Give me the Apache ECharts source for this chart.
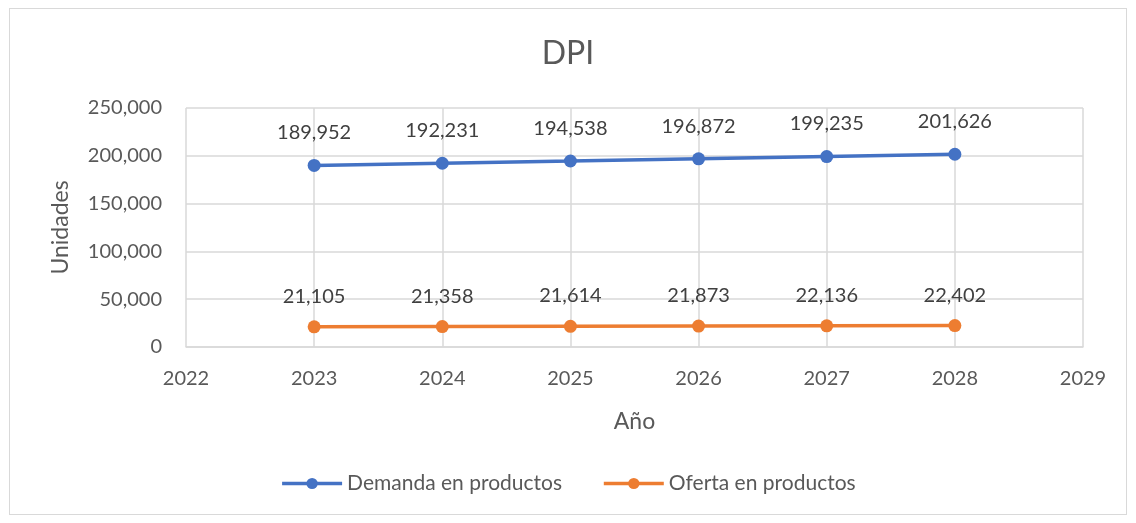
<!DOCTYPE html>
<html>
<head>
<meta charset="utf-8">
<script src="https://cdn.jsdelivr.net/npm/echarts@6/dist/echarts.min.js"></script>
<style>
  html, body { margin: 0; padding: 0; background: #fff; }
  #main { position: absolute; left: 9px; top: 8px; width: 1118px; height: 507px; border: 1px solid #d9d9d9; box-sizing: border-box; }
</style>
</head>
<body>
<div id="main"></div>
<script>
const years = [2023, 2024, 2025, 2026, 2027, 2028];
const demanda = [189952, 192231, 194538, 196872, 199235, 201626];
const oferta = [21105, 21358, 21614, 21873, 22136, 22402];

const font = 'Lato, "Open Sans", sans-serif';
const grey = '#595959';

let myChart = echarts.init(document.getElementById('main'));

const pair = (arr) => years.map((y, i) => [y, arr[i]]);

let option = {
  animation: false,
  textStyle: { fontFamily: font },
  title: {
    text: 'DPI',
    left: 'center',
    top: 24,
    textStyle: { fontSize: 32, fontWeight: 'normal', color: grey, fontFamily: font }
  },
  grid: { left: 176, right: 43, top: 99, bottom: 167 },
  xAxis: {
    type: 'value',
    min: 2022,
    max: 2029,
    interval: 1,
    name: 'Año',
    nameLocation: 'middle',
    nameGap: 63,
    nameTextStyle: { fontSize: 23, color: grey, fontFamily: font },
    axisLine: { show: true, lineStyle: { color: '#d9d9d9', width: 1.5 } },
    axisTick: { show: false },
    axisLabel: { fontSize: 20, color: grey, margin: 22, fontFamily: font, formatter: (v) => String(v) },
    splitLine: { show: true, lineStyle: { color: '#d9d9d9', width: 1.5 } }
  },
  yAxis: {
    type: 'value',
    min: 0,
    max: 250000,
    interval: 50000,
    name: 'Unidades',
    nameLocation: 'middle',
    nameGap: 114,
    nameTextStyle: { fontSize: 23, color: grey, fontFamily: font },
    axisLine: { show: false },
    axisTick: { show: false },
    axisLabel: { fontSize: 20, color: grey, margin: 24, fontFamily: font,
      formatter: (v) => v.toLocaleString('en-US') },
    splitLine: { show: true, lineStyle: { color: '#d9d9d9', width: 1.5 } }
  },
  legend: {
    bottom: 15,
    left: 'center',
    itemGap: 40,
    itemWidth: 60,
    itemHeight: 14,
    lineStyle: { width: 3.5 },
    textStyle: { fontSize: 21, color: grey, fontFamily: font },
    data: ['Demanda en productos', 'Oferta en productos']
  },
  series: [
    {
      name: 'Demanda en productos',
      type: 'line',
      data: pair(demanda),
      symbol: 'circle',
      symbolSize: 13,
      lineStyle: { width: 3.5, color: '#4472c4' },
      itemStyle: { color: '#4472c4' },
      label: { show: true, position: 'top', distance: 16, fontSize: 20, color: '#404040', fontFamily: font,
        formatter: (p) => p.value[1].toLocaleString('en-US') }
    },
    {
      name: 'Oferta en productos',
      type: 'line',
      data: pair(oferta),
      symbol: 'circle',
      symbolSize: 13,
      lineStyle: { width: 3.5, color: '#ed7d31' },
      itemStyle: { color: '#ed7d31' },
      label: { show: true, position: 'top', distance: 14, fontSize: 20, color: '#404040', fontFamily: font,
        formatter: (p) => p.value[1].toLocaleString('en-US') }
    }
  ]
};

myChart.setOption(option);
</script>
</body>
</html>
